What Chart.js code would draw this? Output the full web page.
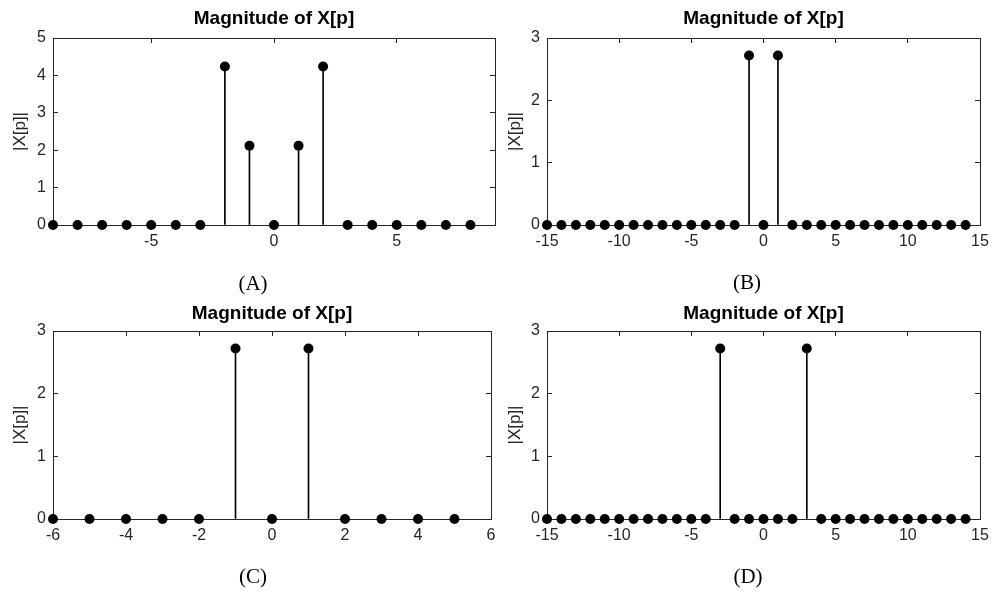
<!DOCTYPE html>
<html>
<head>
<meta charset="utf-8">
<script src="https://cdn.jsdelivr.net/npm/chart.js@4"></script>
<style>
  body { margin: 0; background: #fff; }
  #wrap { position: relative; width: 995px; height: 592px; overflow: hidden; }
  canvas { position: absolute; }
  .cap { position: absolute; width: 100px; text-align: center; font: 21px 'Liberation Serif', 'Times New Roman', serif; line-height: 24px; color: #000; }
</style>
</head>
<body>
<div id="wrap">
  <canvas id="cA" width="500" height="295" style="left:0px;top:0px"></canvas>
  <canvas id="cB" width="500" height="295" style="left:495px;top:0px"></canvas>
  <canvas id="cC" width="500" height="297" style="left:0px;top:295px"></canvas>
  <canvas id="cD" width="500" height="297" style="left:495px;top:295px"></canvas>
  <div class="cap" style="left:203px;top:271px">(A)</div>
  <div class="cap" style="left:697px;top:270px">(B)</div>
  <div class="cap" style="left:203px;top:564px">(C)</div>
  <div class="cap" style="left:698px;top:564px">(D)</div>
</div>
<script>
// sample index p and |X[p]| for each panel
const pA = [-9, -8, -7, -6, -5, -4, -3, -2, -1, 0, 1, 2, 3, 4, 5, 6, 7, 8]
const magA = [0, 0, 0, 0, 0, 0, 0, 4.24, 2.12, 0, 2.12, 4.24, 0, 0, 0, 0, 0, 0]

const pB = [-15, -14, -13, -12, -11, -10, -9, -8, -7, -6, -5, -4, -3, -2, -1, 0, 1, 2, 3, 4, 5, 6, 7, 8, 9, 10, 11, 12, 13, 14]
const magB = [0, 0, 0, 0, 0, 0, 0, 0, 0, 0, 0, 0, 0, 0, 2.72, 0, 2.72, 0, 0, 0, 0, 0, 0, 0, 0, 0, 0, 0, 0, 0]

const pC = [-6, -5, -4, -3, -2, -1, 0, 1, 2, 3, 4, 5]
const magC = [0, 0, 0, 0, 0, 2.72, 0, 2.72, 0, 0, 0, 0]

const pD = [-15, -14, -13, -12, -11, -10, -9, -8, -7, -6, -5, -4, -3, -2, -1, 0, 1, 2, 3, 4, 5, 6, 7, 8, 9, 10, 11, 12, 13, 14]
const magD = [0, 0, 0, 0, 0, 0, 0, 0, 0, 0, 0, 0, 2.72, 0, 0, 0, 0, 0, 2.72, 0, 0, 0, 0, 0, 0, 0, 0, 0, 0, 0]

// tick labels
const xTicksA = [-5, 0, 5]
const xTicksB = [-15, -10, -5, 0, 5, 10, 15]
const xTicksC = [-6, -4, -2, 0, 2, 4, 6]
const xTicksD = [-15, -10, -5, 0, 5, 10, 15]
const yTicksA = [0, 1, 2, 3, 4, 5]
const yTicks3 = [0, 1, 2, 3]

const titleText = 'Magnitude of X[p]'
const yLabel = '|X[p]|'
const axisCol = '#262626'
const sans = "'Liberation Sans', Arial, sans-serif"

function stemChart(id, p, mag, xr, xt, yr, yt, g) {
    const pts = p.map((v, i) => ({ x: v, y: mag[i] }))
    const setTicks = list => s => { s.ticks = list.map(v => ({ value: v })) }
    // ticks point inward like a matlab box
    const gridOpts = { drawOnChartArea: false, offset: false, tickLength: -5, color: axisCol, lineWidth: 1 }
    const borderOpts = { color: axisCol, width: 1 }
    new Chart(document.getElementById(id), {
        type: 'scatter',
        data: {
            datasets: [
                {
                    type: 'scatter',
                    data: pts,
                    pointRadius: 5,
                    pointBackgroundColor: '#000',
                    pointBorderWidth: 0,
                    clip: false
                },
                {
                    type: 'bar',
                    data: pts,
                    barThickness: 1,
                    backgroundColor: '#000',
                    borderWidth: 0
                }
            ]
        },
        options: {
            responsive: false,
            animation: false,
            layout: { padding: { left: 0, right: g.right, top: 0, bottom: 0 } },
            plugins: {
                legend: { display: false },
                tooltip: { enabled: false },
                title: {
                    display: true,
                    text: titleText,
                    fullSize: false,
                    color: '#000',
                    font: { family: sans, size: 19, weight: 'bold', lineHeight: 1.2 },
                    padding: { top: 7.5, bottom: g.titleBottom }
                }
            },
            scales: {
                x: {
                    type: 'linear', position: 'bottom', min: xr[0], max: xr[1], offset: false,
                    afterBuildTicks: setTicks(xt),
                    afterFit: s => { s.height = g.xh; s.paddingLeft = 0; s.paddingRight = 0 },
                    grid: gridOpts, border: borderOpts,
                    ticks: { padding: 12, color: axisCol, maxRotation: 0, autoSkip: false, font: { family: sans, size: 16 } }
                },
                x2: {
                    type: 'linear', position: 'top', min: xr[0], max: xr[1], offset: false,
                    afterBuildTicks: setTicks(xt),
                    afterFit: s => { s.height = 0; s.paddingLeft = 0; s.paddingRight = 0 },
                    grid: gridOpts, border: borderOpts,
                    ticks: { display: false }
                },
                y: {
                    type: 'linear', position: 'left', min: yr[0], max: yr[1],
                    afterBuildTicks: setTicks(yt),
                    afterFit: s => { s.width = g.yw },
                    grid: gridOpts, border: borderOpts,
                    ticks: { padding: 12, color: axisCol, font: { family: sans, size: 16 } },
                    title: { display: true, text: yLabel, color: axisCol, font: { family: sans, size: 17 }, padding: { top: 10, bottom: 0 } }
                },
                y2: {
                    type: 'linear', position: 'right', min: yr[0], max: yr[1],
                    afterBuildTicks: setTicks(yt),
                    afterFit: s => { s.width = 0 },
                    grid: gridOpts, border: borderOpts,
                    ticks: { display: false }
                }
            }
        }
    })
}

stemChart('cA', pA, magA, [-9, 9], xTicksA, [0, 5], yTicksA, { yw: 53, xh: 70, right: 3, titleBottom: 7.7 })
stemChart('cB', pB, magB, [-15, 15], xTicksB, [0, 3], yTicks3, { yw: 52, xh: 70, right: 15, titleBottom: 7.7 })
stemChart('cC', pC, magC, [-6, 6], xTicksC, [0, 3], yTicks3, { yw: 53, xh: 73, right: 9, titleBottom: 5.7 })
stemChart('cD', pD, magD, [-15, 15], xTicksD, [0, 3], yTicks3, { yw: 52, xh: 73, right: 15, titleBottom: 5.7 })
</script>
</body>
</html>
